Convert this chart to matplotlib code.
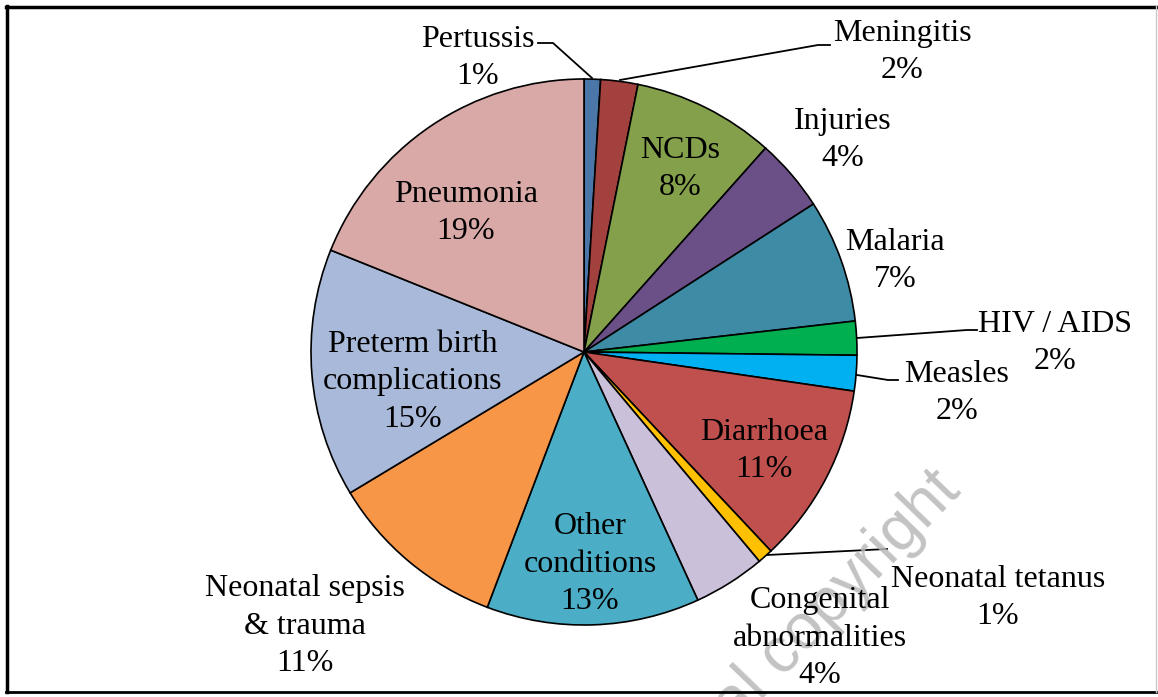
import matplotlib.pyplot as plt
import numpy as np

# causes of death, clockwise from 12 o'clock (share in %)
causes = [
    "Pertussis", "Meningitis", "NCDs", "Injuries", "Malaria", "HIV / AIDS",
    "Measles", "Diarrhoea", "Neonatal tetanus", "Congenital\nabnormalities",
    "Other\nconditions", "Neonatal sepsis\n& trauma",
    "Preterm birth\ncomplications", "Pneumonia",
]
shares = [0.97, 2.2, 8.4, 4.3, 7.3, 2.0, 2.1, 10.7, 0.9, 4.25, 12.6, 10.6, 14.7, 18.9]
colors = [
    "#4a76a8", "#a3413f", "#84a04b", "#6b5088", "#3e8ba6", "#00b050",
    "#00b0f0", "#c0504d", "#ffc000", "#cbc0da", "#4badc6", "#f79646",
    "#a9b9d9", "#d9a9a8",
]

# layout (pixel coords of the 1158x697 canvas)
CENTER = (584, 352)
RADIUS = 273
label_pos = [
    (478, 58), (902, 52), (680, 169), (843, 140), (895, 261), (1055, 343),
    (957, 393), (764, 451), (998, 598), (820, 638), (590, 564), (305, 626),
    (413, 382), (466, 213),
]
leaders = [
    [(538, 43), (553, 43), (592, 78)],
    [(620, 80), (818, 45), (830, 45)],
    [(857, 338), (967, 330), (977, 330)],
    [(857, 375), (888, 380), (898, 380)],
    [(767, 555), (887, 549)],
]

plt.rcParams["font.family"] = ["Liberation Serif", "DejaVu Serif"]

fig = plt.figure(figsize=(11.58, 6.97), dpi=100)
ax = fig.add_axes([0, 0, 1, 1])

ax.pie(
    shares,
    colors=colors,
    center=CENTER,
    radius=RADIUS,
    startangle=-90,
    counterclock=True,
    wedgeprops={"edgecolor": "black", "linewidth": 1.2},
)
ax.set_xlim(0, 1158)
ax.set_ylim(697, 0)
ax.set_aspect("equal")
ax.axis("off")

for name, value, (x, y) in zip(causes, shares, label_pos):
    ax.text(x, y, f"{name}\n{round(value)}%", ha="center", va="center",
            fontsize=23, linespacing=1.38, color="black", zorder=5)

for pts in leaders:
    xs, ys = zip(*pts)
    ax.plot(xs, ys, color="black", lw=1.3, zorder=4)

# watermark
ax.text(962, 492, "al copyright", rotation=46, rotation_mode="anchor",
        ha="right", va="baseline", fontsize=46, family="Liberation Sans",
        color="#b8b8b8", alpha=0.85, zorder=4, clip_on=True)

# frame
ax.plot([7, 7], [6, 692], color="black", lw=2.5, zorder=6)
ax.plot([6, 1156], [7, 7], color="black", lw=2.5, zorder=6)
ax.plot([6, 1156], [692, 692], color="black", lw=2, zorder=6)
ax.plot([1156, 1156], [6, 692], color="#c8c8c8", lw=1, zorder=6)

fig.savefig("out.png", dpi=100)
